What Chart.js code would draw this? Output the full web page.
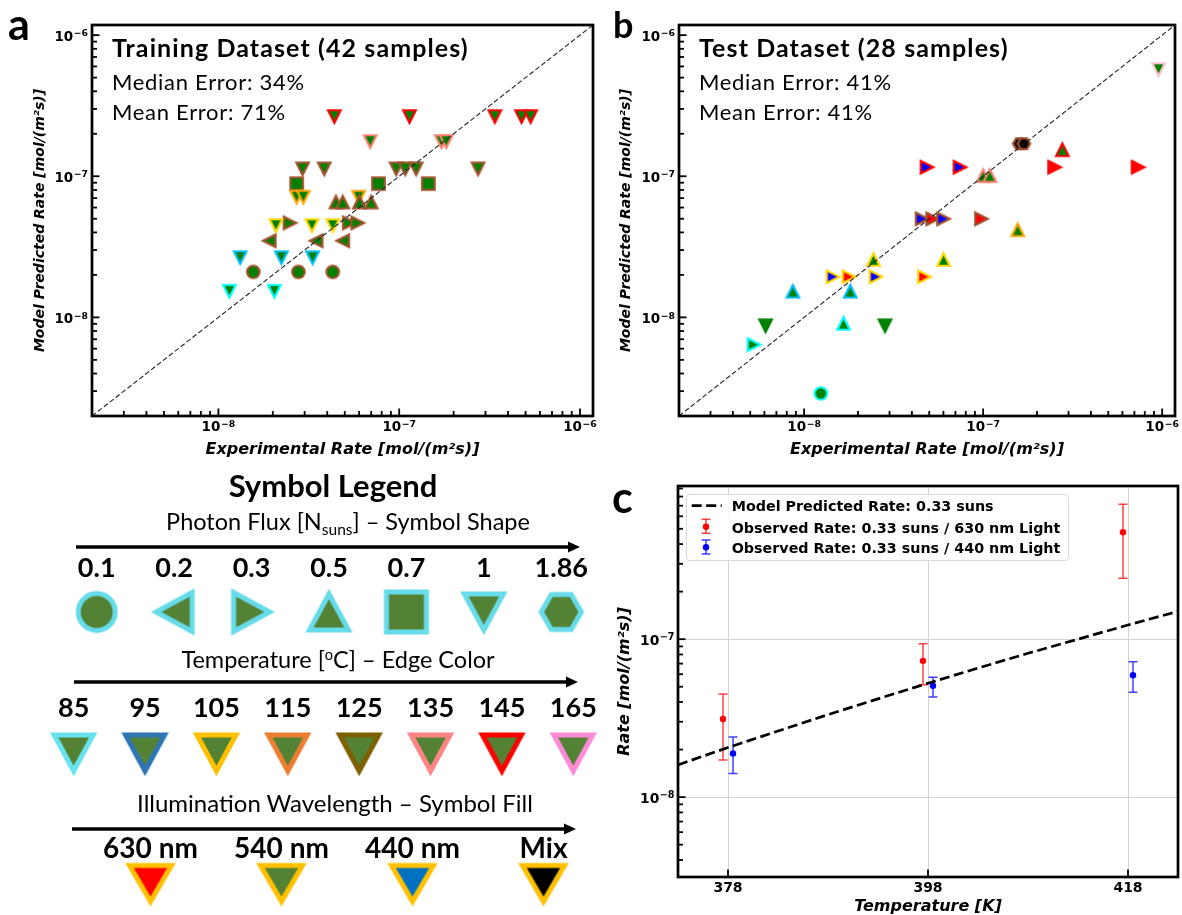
<!DOCTYPE html>
<html>
<head>
<meta charset="utf-8">
<title>Model vs experimental rate</title>
<script src="https://cdn.jsdelivr.net/npm/chart.js@4.4.1/dist/chart.umd.min.js"></script>
<style>
  html, body { margin: 0; padding: 0; background: #fff; }
  #fig { position: relative; width: 1182px; height: 915px; overflow: hidden; background: #fff; }
  #fig canvas, .abs { position: absolute; }
  .lbl { font-family: Lato, sans-serif; font-weight: bold; line-height: 1; color: #000; }
  .note { font-family: Lato, sans-serif; line-height: 1; white-space: nowrap; color: #000; }
  .ctr { transform: translateX(-50%); }
  .legTxt { position: absolute; left: 44.7px; font-family: "DejaVu Sans", sans-serif; font-weight: bold; font-size: 14.3px; line-height: 16px; white-space: nowrap; color: #000; }
</style>
</head>
<body>
<div id="fig">
  <canvas id="chartA" style="left:0;top:0" width="600" height="460"></canvas>
  <canvas id="chartB" style="left:600px;top:0" width="582" height="460"></canvas>
  <canvas id="chartC" style="left:600px;top:470px" width="582" height="450"></canvas>

  <div class="abs" style="left:0;top:0;width:600px;height:915px;overflow:hidden">
    <canvas id="rowFlux" style="left:0;top:520px" width="620" height="130"></canvas>
    <canvas id="rowTemp" style="left:0;top:660px" width="620" height="130"></canvas>
    <canvas id="rowLight" style="left:0;top:800px" width="620" height="115"></canvas>
    <svg class="abs" style="left:0;top:470px" width="600" height="445">
      <g stroke="#000" stroke-width="3.4">
        <line x1="76" y1="77" x2="571" y2="77"/>
        <line x1="74" y1="212" x2="569" y2="212"/>
        <line x1="72" y1="359" x2="567" y2="359"/>
      </g>
      <polygon points="568,71.5 580,77 568,82.5" fill="#000"/>
      <polygon points="566,206.5 578,212 566,217.5" fill="#000"/>
      <polygon points="564,353.5 576,359 564,364.5" fill="#000"/>
    </svg>
  </div>

  <div class="abs lbl" style="left:8px;top:2px;font-size:43px">a</div>
  <div class="abs lbl" style="left:613px;top:6px;font-size:36px">b</div>
  <div class="abs lbl" style="left:612px;top:475px;font-size:43px">c</div>

  <div class="abs note" style="left:112px;top:35px;font-size:25px;font-weight:bold;letter-spacing:1.1px">Training Dataset (42 samples)</div>
  <div class="abs note" style="left:112px;top:70.5px;font-size:22px;letter-spacing:0.7px">Median Error: 34%</div>
  <div class="abs note" style="left:112px;top:100.5px;font-size:22px;letter-spacing:0.7px">Mean Error: 71%</div>
  <div class="abs note" style="left:699px;top:35px;font-size:25px;font-weight:bold;letter-spacing:1.1px">Test Dataset (28 samples)</div>
  <div class="abs note" style="left:699px;top:70.5px;font-size:22px;letter-spacing:0.7px">Median Error: 41%</div>
  <div class="abs note" style="left:699px;top:100.5px;font-size:22px;letter-spacing:0.7px">Mean Error: 41%</div>

  <div class="abs note ctr" style="left:333px;top:470px;font-size:31px;font-weight:bold">Symbol Legend</div>
  <div class="abs note ctr" style="left:348px;top:510px;font-size:23.5px">Photon Flux [N<span style="font-size:15.5px;vertical-align:-5px">suns</span>] – Symbol Shape</div>
  <div class="abs note ctr" style="left:338px;top:648px;font-size:23.5px">Temperature [<span style="font-size:14.5px;vertical-align:8px">o</span>C] – Edge Color</div>
  <div class="abs note ctr" style="left:335px;top:791px;font-size:24px">Illumination Wavelength – Symbol Fill</div>

  <div id="legC" class="abs" style="left:686px;top:494px;width:381px;height:65px;border:1px solid #d9d9d9;border-radius:4px;background:rgba(255,255,255,0.85)">
    <svg class="abs" style="left:0;top:0" width="44" height="65">
      <line x1="4.7" y1="10.7" x2="34.7" y2="10.7" stroke="#000" stroke-width="2.7" stroke-dasharray="10 4.5"/>
      <g stroke="rgba(255,0,0,0.75)" stroke-width="1.5">
        <line x1="19" y1="24.3" x2="19" y2="38.3"/><line x1="14.5" y1="24.3" x2="23.5" y2="24.3"/><line x1="14.5" y1="38.3" x2="23.5" y2="38.3"/>
      </g>
      <circle cx="19" cy="31.7" r="3.2" fill="#ff0000"/>
      <g stroke="rgba(0,0,255,0.75)" stroke-width="1.5">
        <line x1="19" y1="45" x2="19" y2="59"/><line x1="14.5" y1="45" x2="23.5" y2="45"/><line x1="14.5" y1="59" x2="23.5" y2="59"/>
      </g>
      <circle cx="19" cy="52.3" r="3.2" fill="#0000ff"/>
    </svg>
    <div class="legTxt" style="top:2.9px">Model Predicted Rate: 0.33 suns</div>
    <div class="legTxt" style="top:24.5px">Observed Rate: 0.33 suns / 630 nm Light</div>
    <div class="legTxt" style="top:45.2px">Observed Rate: 0.33 suns / 440 nm Light</div>
  </div>
</div>

<script>
// ---- panel a : training set ----
const TRAIN_EXP = [
  4.38e-8, 1.14e-7, 3.38e-7, 4.75e-7, 5.33e-7,
  6.91e-8, 1.71e-7, 1.82e-7,
  2.92e-8, 3.85e-8, 9.62e-8, 1.08e-7, 1.24e-7, 2.73e-7,
  2.71e-8, 7.68e-8, 1.45e-7,
  2.71e-8, 2.95e-8, 5.97e-8,
  4.47e-8, 4.87e-8, 6.03e-8, 7.00e-8,
  2.49e-8, 5.30e-8, 5.90e-8,
  2.08e-8, 3.29e-8, 4.29e-8,
  1.91e-8, 3.47e-8, 4.87e-8,
  1.32e-8, 2.23e-8, 3.32e-8,
  1.56e-8, 2.77e-8, 4.29e-8,
  1.15e-8, 2.04e-8
];
const TRAIN_PRED = [
  2.65e-7, 2.65e-7, 2.65e-7, 2.65e-7, 2.65e-7,
  1.76e-7, 1.76e-7, 1.76e-7,
  1.13e-7, 1.13e-7, 1.13e-7, 1.13e-7, 1.13e-7, 1.13e-7,
  8.86e-8, 8.86e-8, 8.86e-8,
  7.12e-8, 7.12e-8, 7.12e-8,
  6.56e-8, 6.56e-8, 6.56e-8, 6.56e-8,
  4.67e-8, 4.67e-8, 4.67e-8,
  4.47e-8, 4.47e-8, 4.47e-8,
  3.49e-8, 3.49e-8, 3.49e-8,
  2.65e-8, 2.65e-8, 2.65e-8,
  2.10e-8, 2.10e-8, 2.10e-8,
  1.53e-8, 1.53e-8
];
const TRAIN_FLUX = [1, 1, 1, 1, 1, 1, 1, 1, 1, 1, 1, 1, 1, 1, 0.7, 0.7, 0.7, 1, 1, 1,
  0.5, 0.5, 0.5, 0.5, 0.3, 0.3, 0.3, 1, 1, 1, 0.2, 0.2, 0.2, 1, 1, 1, 0.1, 0.1, 0.1, 1, 1];
const TRAIN_TEMP = [145, 145, 145, 145, 145, 135, 135, 135, 125, 125, 125, 125, 125, 125,
  125, 125, 125, 115, 115, 115, 125, 125, 125, 125, 125, 125, 125, 105, 105, 105,
  125, 125, 125, 95, 95, 95, 125, 125, 125, 85, 85];
const TRAIN_LIGHT = TRAIN_EXP.map(() => 540);

// ---- panel b : test set ----
const TEST_EXP = [9.55e-7, 1.59e-7, 1.69e-7, 2.77e-7, 2.51e-7, 7.34e-7, 4.86e-8, 7.43e-8, 1.00e-7, 1.09e-7,
  4.56e-8, 5.23e-8, 6.01e-8, 9.79e-8, 1.56e-7, 2.44e-8, 6.01e-8, 1.45e-8, 1.78e-8, 2.52e-8, 4.70e-8,
  8.65e-9, 1.81e-8, 1.66e-8, 6.09e-9, 2.83e-8, 5.25e-9, 1.24e-8];
const TEST_PRED = [5.70e-7, 1.70e-7, 1.70e-7, 1.54e-7, 1.16e-7, 1.16e-7, 1.16e-7, 1.16e-7, 1.01e-7, 1.01e-7,
  4.99e-8, 4.99e-8, 4.99e-8, 4.99e-8, 4.17e-8, 2.57e-8, 2.57e-8, 1.94e-8, 1.94e-8, 1.94e-8, 1.94e-8,
  1.53e-8, 1.53e-8, 9.06e-9, 8.73e-9, 8.73e-9, 6.40e-9, 2.89e-9];
const TEST_FLUX = [1, 1.86, 1.86, 0.5, 0.3, 0.3, 0.3, 0.3, 0.5, 0.5, 0.3, 0.3, 0.3, 0.3, 0.5,
  0.5, 0.5, 0.3, 0.3, 0.3, 0.3, 0.5, 0.5, 0.5, 1, 1, 0.3, 0.1];
const TEST_TEMP = [165, 125, 125, 145, 145, 145, 145, 145, 135, 135, 125, 125, 125, 125, 115,
  105, 105, 105, 105, 105, 105, 95, 95, 85, null, null, 85, 85];
const TEST_LIGHT = [540, 'mix', 'mix', 540, 630, 630, 440, 440, 540, 540, 440, 630, 440, 630, 540,
  540, 540, 440, 630, 440, 630, 540, 540, 540, 540, 540, 540, 540];

// ---- panel c : temperature series at 0.33 suns ----
const TEMPS_K = [378, 398, 418];
const RED_RATE = [3.12e-8, 7.29e-8, 4.75e-7];
const RED_LOW = [1.72e-8, 5.14e-8, 2.43e-7];
const RED_HIGH = [4.49e-8, 9.34e-8, 7.15e-7];
const BLUE_RATE = [1.89e-8, 5.07e-8, 5.92e-8];
const BLUE_LOW = [1.41e-8, 4.31e-8, 4.62e-8];
const BLUE_HIGH = [2.40e-8, 5.75e-8, 7.19e-8];
const MODEL_T = [373, 378, 383, 388, 393, 398, 403, 408, 413, 418, 423];
const MODEL_RATE = [1.60e-8, 2.06e-8, 2.62e-8, 3.33e-8, 4.19e-8, 5.26e-8, 6.56e-8, 8.14e-8, 1.00e-7, 1.23e-7, 1.50e-7];

// ---- legend rows ----
const FLUX_LABELS = ['0.1', '0.2', '0.3', '0.5', '0.7', '1', '1.86'];
const TEMP_LABELS = ['85', '95', '105', '115', '125', '135', '145', '165'];
const LIGHT_LABELS = ['630 nm', '540 nm', '440 nm', 'Mix'];
const LIGHT_KEYS = [630, 540, 440, 'mix'];

const RATE_MIN = 2e-9, RATE_MAX = 1.18e-6;
const LOG_MANTISSAS = [1, 2, 3, 4, 5, 6, 7, 8, 9];

const FLUX_SHAPE = { 0.1: 'circle', 0.2: 'left', 0.3: 'right', 0.5: 'up', 0.7: 'square', 1: 'down', 1.86: 'hex' };
const TEMP_EDGE = { 85: '#00ffff', 95: '#00bfff', 105: '#ffd700', 115: '#ffa500', 125: '#a0522d', 135: '#fa8072', 145: '#ff0000', 165: '#ffc0cb' };
const LIGHT_FILL = { 630: '#ff0000', 540: '#008000', 440: '#0000ff', mix: '#000000' };
const LEG_TEMP_EDGE = { 85: '#66e3ee', 95: '#2e75b6', 105: '#ffc000', 115: '#ed7d31', 125: '#7f6000', 135: '#ff8585', 145: '#ff0000', 165: '#ff8ad8' };
const LEG_LIGHT_FILL = { 630: '#ff0000', 540: '#548235', 440: '#0070c0', mix: '#000000' };
const LEG_GREEN = '#548235', LEG_SHAPE_EDGE = '#66dbe9', LEG_LIGHT_EDGE = '#ffc000';

const TITLE_FONT = { family: 'DejaVu Sans', weight: 'bold', style: 'italic' };

function logTicks(min, max) {
  let out = [];
  for (let d = Math.floor(Math.log10(min)); d <= Math.ceil(Math.log10(max)); d++) {
    for (let m of LOG_MANTISSAS) {
      let v = m * Math.pow(10, d);
      if (v >= min * 0.999 && v <= max * 1.001) out.push({ value: v, major: m === 1 });
    }
  }
  return out;
}

// marker sprites, so every shape is centred on its box like the original
const markerCache = {};
function marker(shape, fill, edge, w, h, lw) {
  let key = [shape, fill, edge, w, h, lw].join('|');
  if (markerCache[key]) return markerCache[key];
  let pad = Math.ceil(lw * 1.6) + 1;
  let c = document.createElement('canvas');
  c.width = Math.ceil(w) + 2 * pad;
  c.height = Math.ceil(h) + 2 * pad;
  let g = c.getContext('2d');
  let cx = c.width / 2, cy = c.height / 2, a = w / 2, b = h / 2;
  g.beginPath();
  if (shape === 'circle') g.ellipse(cx, cy, a, b, 0, 0, Math.PI * 2);
  else if (shape === 'square') g.rect(cx - a, cy - b, w, h);
  else {
    let pts = {
      up: [[0, -b], [a, b], [-a, b]],
      down: [[0, b], [-a, -b], [a, -b]],
      left: [[-a, 0], [a, -b], [a, b]],
      right: [[a, 0], [-a, b], [-a, -b]],
      hex: [[a, 0], [a / 2, b], [-a / 2, b], [-a, 0], [-a / 2, -b], [a / 2, -b]]
    }[shape];
    pts.forEach(([px, py], i) => i ? g.lineTo(cx + px, cy + py) : g.moveTo(cx + px, cy + py));
  }
  g.closePath();
  g.fillStyle = fill;
  g.fill();
  g.lineJoin = 'miter';
  g.lineWidth = lw;
  g.strokeStyle = edge;
  g.stroke();
  markerCache[key] = c;
  return c;
}

function dataMarker(flux, temp, light) {
  let shape = FLUX_SHAPE[flux];
  let fill = LIGHT_FILL[light];
  let edge = temp ? TEMP_EDGE[temp] : fill;
  return marker(shape, fill, edge, 12.5, shape === 'hex' ? 10.8 : 12.5, 2.2);
}

function legendMarker(shape, fill, edge) {
  let size = { circle: [37, 37], left: [36, 39], right: [36, 39], up: [39, 36], down: [39, 36], square: [40, 40], hex: [40, 35] }[shape];
  return marker(shape, fill, edge, size[0], size[1], 5);
}

// frame and inward tick marks, like the matplotlib axes
const frameTicks = {
  id: 'frameTicks',
  afterDatasetsDraw(chart) {
    let { ctx, chartArea: a } = chart;
    ctx.save();
    ctx.strokeStyle = '#000';
    for (let id of ['x', 'y']) {
      let s = chart.scales[id];
      s.ticks.forEach(t => {
        let len = t.major ? 7.5 : 5;
        let p = s.getPixelForValue(t.value);
        ctx.lineWidth = 1.8;
        ctx.beginPath();
        if (id === 'x') { ctx.moveTo(p, a.bottom); ctx.lineTo(p, a.bottom - len); }
        else { ctx.moveTo(a.left, p); ctx.lineTo(a.left + len, p); }
        ctx.stroke();
      });
    }
    ctx.lineWidth = 2.7;
    ctx.strokeRect(a.left, a.top, a.right - a.left, a.bottom - a.top);
    ctx.restore();
  }
};

// 10^n labels with a raised, smaller exponent (mathtext look)
function drawPow(ctx, v, x, y, mode, o) {
  let e = Math.round(Math.log10(v));
  let expTxt = (e < 0 ? '\u2212' : '') + Math.abs(e);
  ctx.font = 'bold ' + o.base + 'px "DejaVu Sans"';
  let w1 = ctx.measureText('10').width;
  ctx.font = 'bold ' + o.sup + 'px "DejaVu Sans"';
  let w2 = ctx.measureText(expTxt).width;
  let h = o.raise + 0.729 * o.sup;
  let x0 = mode === 'right' ? x - w1 - w2 - 0.5 : x - (w1 + w2 + 0.5) / 2;
  let base = mode === 'right' ? y + h / 2 : y + h;
  ctx.textAlign = 'left';
  ctx.textBaseline = 'alphabetic';
  ctx.fillStyle = '#000';
  ctx.font = 'bold ' + o.base + 'px "DejaVu Sans"';
  ctx.fillText('10', x0, base);
  ctx.font = 'bold ' + o.sup + 'px "DejaVu Sans"';
  ctx.fillText(expTxt, x0 + w1 + 0.5, base - o.raise);
}

const powLabels = {
  id: 'powLabels',
  afterDraw(chart, args, o) {
    let { ctx, chartArea: a } = chart;
    ctx.save();
    for (let id of o.axes) {
      let s = chart.scales[id];
      s.ticks.forEach(t => {
        if (!t.major) return;
        let p = s.getPixelForValue(t.value);
        if (id === 'x') drawPow(ctx, t.value, p, a.bottom + o.padX, 'center', o);
        else drawPow(ctx, t.value, a.left - o.padY, p, 'right', o);
      });
    }
    ctx.restore();
  }
};

const errorBars = {
  id: 'errorBars',
  beforeDatasetsDraw(chart) {
    let { ctx } = chart;
    let xs = chart.scales.x, ys = chart.scales.y;
    chart.data.datasets.forEach(ds => {
      if (!ds.errLow) return;
      ctx.save();
      ctx.strokeStyle = ds.errColor;
      ctx.lineWidth = 1.5;
      ds.data.forEach((p, i) => {
        let x = xs.getPixelForValue(p.x);
        let y0 = ys.getPixelForValue(ds.errLow[i]);
        let y1 = ys.getPixelForValue(ds.errHigh[i]);
        ctx.beginPath();
        ctx.moveTo(x, y0); ctx.lineTo(x, y1);
        ctx.moveTo(x - 4.5, y0); ctx.lineTo(x + 4.5, y0);
        ctx.moveTo(x - 4.5, y1); ctx.lineTo(x + 4.5, y1);
        ctx.stroke();
      });
      ctx.restore();
    });
  }
};

function parityChart(id, geom, exp, pred, flux, temp, light) {
  let styles = exp.map((_, i) => dataMarker(flux[i], temp[i], light[i]));
  return new Chart(document.getElementById(id), {
    type: 'scatter',
    data: {
      datasets: [
        {
          data: [{ x: RATE_MIN, y: RATE_MIN }, { x: RATE_MAX, y: RATE_MAX }],
          showLine: true, borderColor: '#222', borderWidth: 1.1, borderDash: [5, 2.5], pointRadius: 0
        },
        {
          data: exp.map((x, i) => ({ x: x, y: pred[i] })),
          pointStyle: styles, pointRadius: 6, clip: false
        }
      ]
    },
    options: {
      responsive: false, animation: false, events: [],
      layout: { padding: geom.pad },
      plugins: {
        legend: { display: false }, tooltip: { enabled: false },
        powLabels: { axes: ['x', 'y'], base: 13.5, sup: 9.3, raise: 4.4, padX: 4, padY: geom.labelPad }
      },
      scales: {
        x: {
          type: 'logarithmic', min: RATE_MIN, max: RATE_MAX,
          grid: { display: false, drawTicks: false }, border: { display: false },
          ticks: { display: false },
          afterBuildTicks: s => { s.ticks = logTicks(s.min, s.max); },
          afterFit: s => { s.height = geom.xh; },
          title: { display: true, text: 'Experimental Rate [mol/(m²s)]', color: '#000', font: Object.assign({ size: 16 }, TITLE_FONT), padding: { top: 0, bottom: 0 } }
        },
        y: {
          type: 'logarithmic', min: RATE_MIN, max: RATE_MAX,
          grid: { display: false, drawTicks: false }, border: { display: false },
          ticks: { display: false },
          afterBuildTicks: s => { s.ticks = logTicks(s.min, s.max); },
          afterFit: s => { s.width = geom.yw; },
          title: { display: true, text: 'Model Predicted Rate [mol/(m²s)]', color: '#000', font: Object.assign({ size: 14 }, TITLE_FONT), padding: { top: 0, bottom: 0 } }
        }
      }
    },
    plugins: [frameTicks, powLabels]
  });
}

parityChart('chartA', { pad: { left: 32, top: 25, right: 5, bottom: 1 }, yw: 60, xh: 43, labelPad: 4 },
  TRAIN_EXP, TRAIN_PRED, TRAIN_FLUX, TRAIN_TEMP, TRAIN_LIGHT);
parityChart('chartB', { pad: { left: 18, top: 25, right: 4, bottom: 1 }, yw: 61, xh: 43, labelPad: 4 },
  TEST_EXP, TEST_PRED, TEST_FLUX, TEST_TEMP, TEST_LIGHT);

// Temperature chart
new Chart(document.getElementById('chartC'), {
  type: 'scatter',
  data: {
    datasets: [
      {
        data: MODEL_T.map((t, i) => ({ x: t, y: MODEL_RATE[i] })),
        showLine: true, borderColor: '#000', borderWidth: 2.7, borderDash: [10, 4.5], pointRadius: 0
      },
      {
        data: TEMPS_K.map((t, i) => ({ x: t - 0.5, y: RED_RATE[i] })),
        errLow: RED_LOW, errHigh: RED_HIGH, errColor: 'rgba(255,0,0,0.75)',
        pointRadius: 3.2, pointBackgroundColor: '#ff0000', pointBorderWidth: 0
      },
      {
        data: TEMPS_K.map((t, i) => ({ x: t + 0.5, y: BLUE_RATE[i] })),
        errLow: BLUE_LOW, errHigh: BLUE_HIGH, errColor: 'rgba(0,0,255,0.75)',
        pointRadius: 3.2, pointBackgroundColor: '#0000ff', pointBorderWidth: 0
      }
    ]
  },
  options: {
    responsive: false, animation: false, events: [],
    layout: { padding: { left: 15, top: 16, right: 4, bottom: 4 } },
    plugins: {
      legend: { display: false }, tooltip: { enabled: false },
      powLabels: { axes: ['y'], base: 13.8, sup: 9.6, raise: 4.6, padX: 4, padY: 3.5 }
    },
    scales: {
      x: {
        type: 'linear', min: 373, max: 423,
        grid: { drawTicks: false, color: '#d3d3d3', lineWidth: 1 }, border: { display: false },
        ticks: { autoSkip: false, maxRotation: 0, padding: 3, color: '#000', font: { family: 'DejaVu Sans', weight: 'bold', size: 14 }, callback: v => String(v) },
        afterBuildTicks: s => { s.ticks = TEMPS_K.map(v => ({ value: v, major: true })); },
        afterFit: s => { s.height = 39; },
        title: { display: true, text: 'Temperature [K]', color: '#000', font: Object.assign({ size: 16 }, TITLE_FONT), padding: { top: 0, bottom: 0 } }
      },
      y: {
        type: 'logarithmic', min: 3.12e-9, max: 9.33e-7,
        grid: { drawTicks: false, lineWidth: 1, color: c => (c.tick && c.tick.major) ? '#d3d3d3' : 'rgba(0,0,0,0)' },
        border: { display: false },
        ticks: { display: false },
        afterBuildTicks: s => { s.ticks = logTicks(s.min, s.max); },
        afterFit: s => { s.width = 63; },
        title: { display: true, text: 'Rate [mol/(m²s)]', color: '#000', font: Object.assign({ size: 16 }, TITLE_FONT), padding: { top: 0, bottom: 0 } }
      }
    }
  },
  plugins: [errorBars, frameTicks, powLabels]
});

// Symbol legend rows
function legendRow(id, labels, images, g) {
  return new Chart(document.getElementById(id), {
    type: 'line',
    data: {
      labels: labels,
      datasets: [{ data: labels.map(() => 0), showLine: false, pointStyle: images, pointRadius: 10, clip: false }]
    },
    options: {
      responsive: false, animation: false, events: [],
      layout: { padding: { left: g.left, right: g.right, top: 0, bottom: g.bottom } },
      plugins: { legend: { display: false }, tooltip: { enabled: false } },
      scales: {
        x: {
          type: 'category', position: 'top', offset: true,
          grid: { display: false, drawTicks: false }, border: { display: false },
          ticks: { autoSkip: false, maxRotation: 0, padding: g.tickPad, color: '#000', font: { family: 'Lato', weight: 'bold', size: g.font } },
          afterFit: s => { s.height = g.axis; }
        },
        y: { display: false, min: -1, max: 1 }
      }
    }
  });
}

legendRow('rowFlux', FLUX_LABELS,
  FLUX_LABELS.map(f => legendMarker(FLUX_SHAPE[Number(f)], LEG_GREEN, LEG_SHAPE_EDGE)),
  { left: 58, right: 20, bottom: 16, axis: 70, tickPad: 5.8, font: 27 });
legendRow('rowTemp', TEMP_LABELS,
  TEMP_LABELS.map(t => legendMarker('down', LEG_GREEN, LEG_TEMP_EDGE[t])),
  { left: 38, right: 11, bottom: 14, axis: 70, tickPad: 5.2, font: 27 });
legendRow('rowLight', LIGHT_LABELS,
  LIGHT_KEYS.map(k => marker('down', LEG_LIGHT_FILL[k], LEG_LIGHT_EDGE, 42, 36, 5)),
  { left: 85, right: 6, bottom: 19, axis: 71, tickPad: 4.9, font: 28 });
</script>
</body>
</html>
